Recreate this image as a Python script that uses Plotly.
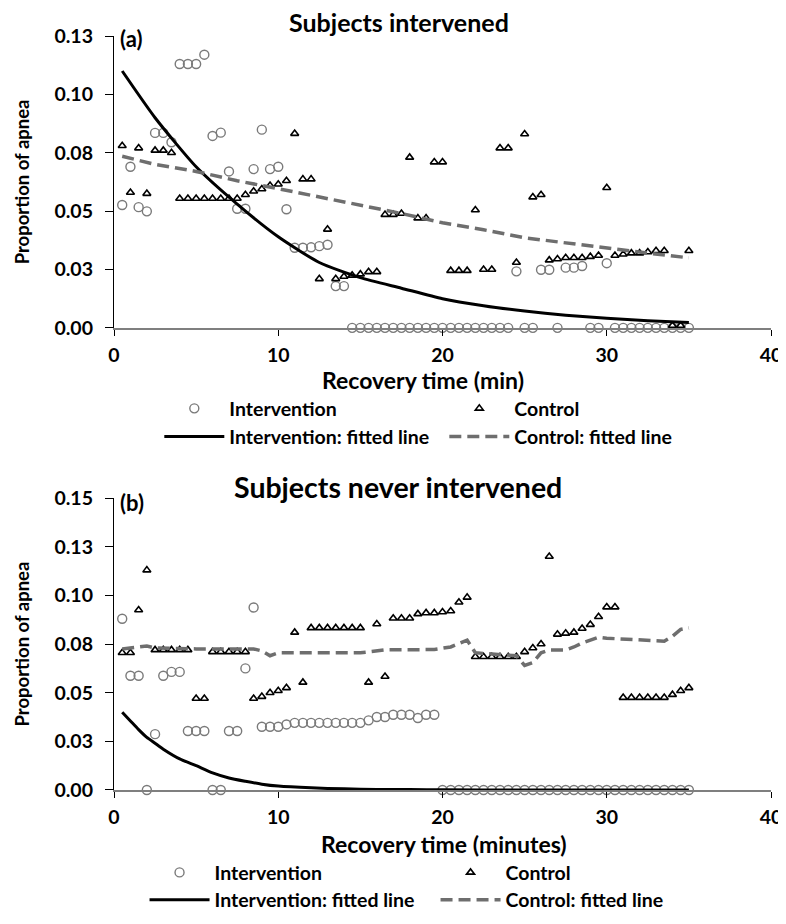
import plotly.graph_objects as go

# ---------------- data ----------------
TIME = [0.5, 1.0, 1.5, 2.0, 2.5, 3.0, 3.5, 4.0, 4.5, 5.0,
        5.5, 6.0, 6.5, 7.0, 7.5, 8.0, 8.5, 9.0, 9.5, 10.0,
        10.5, 11.0, 11.5, 12.0, 12.5, 13.0, 13.5, 14.0, 14.5, 15.0,
        15.5, 16.0, 16.5, 17.0, 17.5, 18.0, 18.5, 19.0, 19.5, 20.0,
        20.5, 21.0, 21.5, 22.0, 22.5, 23.0, 23.5, 24.0, 24.5, 25.0,
        25.5, 26.0, 26.5, 27.0, 27.5, 28.0, 28.5, 29.0, 29.5, 30.0,
        30.5, 31.0, 31.5, 32.0, 32.5, 33.0, 33.5, 34.0, 34.5, 35.0]

# Panel (a): subjects intervened
A_INTERVENTION = [0.0526, 0.069, 0.0517, 0.0499, 0.0835, 0.0835, 0.0795, 0.113, 0.113, 0.113,
                  0.117, 0.0822, 0.0836, 0.067, 0.051, 0.051, 0.068, 0.0849, 0.068, 0.069,
                  0.0508, 0.0343, 0.0343, 0.0345, 0.035, 0.0356, 0.0179, 0.0179, 0.0, 0.0,
                  0.0, 0.0, 0.0, 0.0, 0.0, 0.0, 0.0, 0.0, 0.0, 0.0,
                  0.0, 0.0, 0.0, 0.0, 0.0, 0.0, 0.0, 0.0, 0.0242, 0.0,
                  0.0, 0.0249, 0.0249, 0.0, 0.0258, 0.0258, 0.0265, 0.0, 0.0, 0.0277,
                  0.0, 0.0, 0.0, 0.0, 0.0, 0.0, 0.0, 0.0, 0.0, 0.0]
A_CONTROL = [0.078, 0.058, 0.077, 0.0575, 0.076, 0.076, 0.075, 0.0554, 0.0554, 0.0554,
             0.0554, 0.0554, 0.0554, 0.0554, 0.0554, 0.057, 0.0585, 0.0595, 0.061, 0.0615,
             0.063, 0.0832, 0.0637, 0.0637, 0.021, 0.0422, 0.021, 0.022, 0.0225, 0.023,
             0.024, 0.024, 0.0485, 0.0485, 0.049, 0.073, 0.047, 0.047, 0.071, 0.071,
             0.0245, 0.0245, 0.0245, 0.0505, 0.025, 0.025, 0.077, 0.077, 0.028, 0.083,
             0.056, 0.057, 0.029, 0.0295, 0.030, 0.030, 0.030, 0.0305, 0.031, 0.060,
             0.031, 0.0315, 0.032, 0.032, 0.0325, 0.033, 0.033, 0.001, 0.001, 0.033]
A_FIT_TIME = [0.5, 2.5, 5.0, 7.5, 10.0, 12.5, 15.0, 17.5, 20.0, 22.5, 25.0, 27.5, 30.0, 32.5, 35.0]
A_FIT_INTERVENTION = [0.110, 0.090, 0.069, 0.053, 0.039, 0.028, 0.0215, 0.017, 0.0125, 0.0095,
                      0.0072, 0.0054, 0.0041, 0.0031, 0.0023]
A_FIT_CONTROL = [0.0735, 0.070, 0.067, 0.063, 0.0596, 0.056, 0.0526, 0.049, 0.045, 0.042,
                 0.0386, 0.0363, 0.034, 0.032, 0.030]

# Panel (b): subjects never intervened
B_INTERVENTION = [0.088, 0.0587, 0.0587, 0.0, 0.0287, 0.0587, 0.0607, 0.0607, 0.0303, 0.0303,
                  0.0303, 0.0, 0.0, 0.0303, 0.0303, 0.0625, 0.0938, 0.0325, 0.0325, 0.0325,
                  0.0337, 0.0345, 0.0345, 0.0345, 0.0345, 0.0345, 0.0345, 0.0345, 0.0345, 0.0345,
                  0.0358, 0.0375, 0.0375, 0.0387, 0.0387, 0.0387, 0.037, 0.0387, 0.0387, 0.0,
                  0.0, 0.0, 0.0, 0.0, 0.0, 0.0, 0.0, 0.0, 0.0, 0.0,
                  0.0, 0.0, 0.0, 0.0, 0.0, 0.0, 0.0, 0.0, 0.0, 0.0,
                  0.0, 0.0, 0.0, 0.0, 0.0, 0.0, 0.0, 0.0, 0.0, 0.0]
B_CONTROL = [0.0705, 0.0705, 0.0925, 0.113, 0.072, 0.072, 0.072, 0.072, 0.072, 0.047,
             0.047, 0.071, 0.071, 0.071, 0.071, 0.071, 0.047, 0.048, 0.050, 0.051,
             0.0525, 0.081, 0.0553, 0.0833, 0.0833, 0.0833, 0.0833, 0.0833, 0.0833, 0.0833,
             0.0553, 0.0853, 0.0583, 0.0883, 0.0883, 0.0883, 0.0905, 0.091, 0.091, 0.0915,
             0.092, 0.0965, 0.099, 0.0685, 0.0685, 0.0685, 0.0685, 0.0685, 0.0685, 0.071,
             0.073, 0.075, 0.120, 0.080, 0.0805, 0.081, 0.083, 0.085, 0.089, 0.094,
             0.094, 0.0475, 0.0475, 0.0475, 0.0475, 0.0475, 0.0475, 0.049, 0.051, 0.0525]
B_FIT_INT_TIME = [0.5, 1.0, 1.5, 2.0, 2.5, 3.0, 4.0, 5.0, 6.0, 7.0, 8.0, 9.0, 10.0,
                  12.0, 14.0, 16.0, 18.0, 20.0, 25.0, 30.0, 35.0]
B_FIT_INTERVENTION = [0.040, 0.0355, 0.031, 0.027, 0.024, 0.021, 0.016, 0.0125, 0.0088, 0.0062,
                      0.0045, 0.003, 0.002, 0.0011, 0.0006, 0.0003, 0.0002, 0.0001, 0.0, 0.0, 0.0]
B_FIT_CTRL_TIME = [0.5, 1.5, 2.0, 2.5, 5.0, 8.5, 9.0, 9.5, 10.0, 12.5, 15.0, 16.5, 18.0, 19.5,
                   20.5, 21.0, 21.5, 22.0, 24.5, 25.0, 25.5, 26.0, 26.5, 27.5, 28.0, 28.5,
                   29.5, 30.0, 33.0, 33.5, 34.0, 34.5, 35.0]
B_FIT_CONTROL = [0.0725, 0.0735, 0.074, 0.073, 0.0725, 0.0725, 0.0715, 0.069, 0.0705, 0.0705,
                 0.0705, 0.072, 0.0722, 0.0722, 0.0735, 0.0755, 0.077, 0.0705, 0.069, 0.064,
                 0.0655, 0.0705, 0.072, 0.072, 0.0735, 0.0755, 0.0785, 0.078, 0.0765, 0.0765,
                 0.079, 0.0825, 0.0833]

X_TICKS = [0, 10, 20, 30, 40]
Y_TICKS_A = [0, 0.025, 0.05, 0.075, 0.1, 0.125]
Y_LABELS_A = ["0.00", "0.03", "0.05", "0.08", "0.10", "0.13"]
Y_TICKS_B = [0, 0.025, 0.05, 0.075, 0.1, 0.125, 0.15]
Y_LABELS_B = ["0.00", "0.03", "0.05", "0.08", "0.10", "0.13", "0.15"]

# ---------------- styling ----------------
FONT = "Lato"
CIRCLE_COLOR = "#7a7a7a"
FIT_CTRL_COLOR = "#6e6e6e"

W, H = 786, 924
ML, MR, MT, MB = 106, 13, 28, 121
PH = H - MT - MB


def py(pix):
    """pixel row (from top of figure) -> paper y"""
    return 1 - (pix - MT) / PH


def px(pix):
    """pixel column (from left of figure) -> paper x"""
    return (pix - ML) / (W - ML - MR)


fig = go.Figure()


def add_panel(xa, ya, leg_pts, leg_lines, t, inter, ctrl, fit_it, fit_i, fit_ct, fit_c):
    fig.add_trace(go.Scatter(
        x=t, y=inter, mode="markers", name="Intervention", legend=leg_pts,
        xaxis=xa, yaxis=ya, cliponaxis=False, legendrank=1,
        marker=dict(symbol="circle-open", size=9, color=CIRCLE_COLOR,
                    line=dict(width=1.4, color=CIRCLE_COLOR))))
    fig.add_trace(go.Scatter(
        x=t, y=ctrl, mode="markers", name="Control", legend=leg_pts,
        xaxis=xa, yaxis=ya, cliponaxis=False, legendrank=2,
        marker=dict(symbol="triangle-up-open", size=7, color="black",
                    line=dict(width=1.6, color="black"))))
    fig.add_trace(go.Scatter(
        x=fit_it, y=fit_i, mode="lines", name="Intervention: fitted line", legend=leg_lines,
        xaxis=xa, yaxis=ya, cliponaxis=False, legendrank=3,
        line=dict(color="black", width=3, shape="spline", smoothing=0.6)))
    fig.add_trace(go.Scatter(
        x=fit_ct, y=fit_c, mode="lines", name="Control: fitted line", legend=leg_lines,
        xaxis=xa, yaxis=ya, cliponaxis=False, legendrank=4,
        line=dict(color=FIT_CTRL_COLOR, width=3.5, dash="12px,6px")))


add_panel("x", "y", "legend", "legend3", TIME, A_INTERVENTION, A_CONTROL,
          A_FIT_TIME, A_FIT_INTERVENTION, A_FIT_TIME, A_FIT_CONTROL)
add_panel("x2", "y2", "legend2", "legend4", TIME, B_INTERVENTION, B_CONTROL,
          B_FIT_INT_TIME, B_FIT_INTERVENTION, B_FIT_CTRL_TIME, B_FIT_CONTROL)

tickfont = dict(family=FONT, size=19.5, color="black", weight="bold")
ytitlefont = dict(family=FONT, size=18.5, color="black", weight="bold")
xtitlefont = dict(family=FONT, size=23, color="black", weight="bold")
legfont = dict(family=FONT, size=19.5, color="black", weight="bold")

xcommon = dict(range=[0, 40], tickvals=X_TICKS, ticks="outside", ticklen=6,
               tickcolor="black", tickwidth=1.3, showline=True, linecolor="#7f7f7f",
               linewidth=1.5, showgrid=False, zeroline=False, tickfont=tickfont,
               ticklabelstandoff=3)
ycommon = dict(ticks="outside", ticklen=8, tickcolor="black", tickwidth=1.3,
               showline=True, linecolor="black", linewidth=1.3, showgrid=False,
               zeroline=False, tickfont=tickfont, ticklabelstandoff=8,
               title=dict(text="Proportion of apnea", font=ytitlefont, standoff=19))

top_dom = [py(328), py(28)]
bot_dom = [py(803), py(503)]


def leg(x_pix, top_pix, ew):
    return dict(orientation="h", x=px(x_pix), y=py(top_pix), xanchor="left", yanchor="top",
                entrywidth=ew, entrywidthmode="pixels", itemwidth=60, font=legfont,
                bgcolor="rgba(0,0,0,0)", traceorder="normal")


fig.update_layout(
    width=W, height=H,
    margin=dict(l=ML, r=MR, t=MT, b=MB),
    paper_bgcolor="white", plot_bgcolor="white",
    font=dict(family=FONT, color="black"),
    xaxis=dict(xcommon, anchor="y"),
    yaxis=dict(ycommon, domain=top_dom, range=[0, 0.125],
               tickvals=Y_TICKS_A, ticktext=Y_LABELS_A, anchor="x"),
    xaxis2=dict(xcommon, anchor="y2"),
    yaxis2=dict(ycommon, domain=bot_dom, range=[0, 0.15],
                tickvals=Y_TICKS_B, ticktext=Y_LABELS_B, anchor="x2"),
    legend=leg(152, 391, 210),
    legend3=leg(152, 420, 210),
    legend2=leg(137, 868, 216),
    legend4=leg(137, 896, 216),
    annotations=[
        dict(text="Subjects intervened", x=px(395), y=py(14), xref="paper", yref="paper",
             showarrow=False, xanchor="center", yanchor="middle",
             font=dict(family=FONT, size=25, color="black", weight="bold")),
        dict(text="Subjects never intervened", x=px(394), y=py(492), xref="paper", yref="paper",
             showarrow=False, xanchor="center", yanchor="middle",
             font=dict(family=FONT, size=28.5, color="black", weight="bold")),
        dict(text="(a)", x=px(110), y=py(31), xref="paper", yref="paper",
             showarrow=False, xanchor="left", yanchor="middle",
             font=dict(family=FONT, size=22, color="black", weight="bold")),
        dict(text="(b)", x=px(110), y=py(508), xref="paper", yref="paper",
             showarrow=False, xanchor="left", yanchor="middle",
             font=dict(family=FONT, size=22, color="black", weight="bold")),
        dict(text="Recovery time (min)", x=px(420), y=py(382), xref="paper", yref="paper",
             showarrow=False, xanchor="center", yanchor="middle", font=xtitlefont),
        dict(text="Recovery time (minutes)", x=px(441), y=py(858), xref="paper", yref="paper",
             showarrow=False, xanchor="center", yanchor="middle", font=xtitlefont),
    ],
)

fig.write_html("out.html")
